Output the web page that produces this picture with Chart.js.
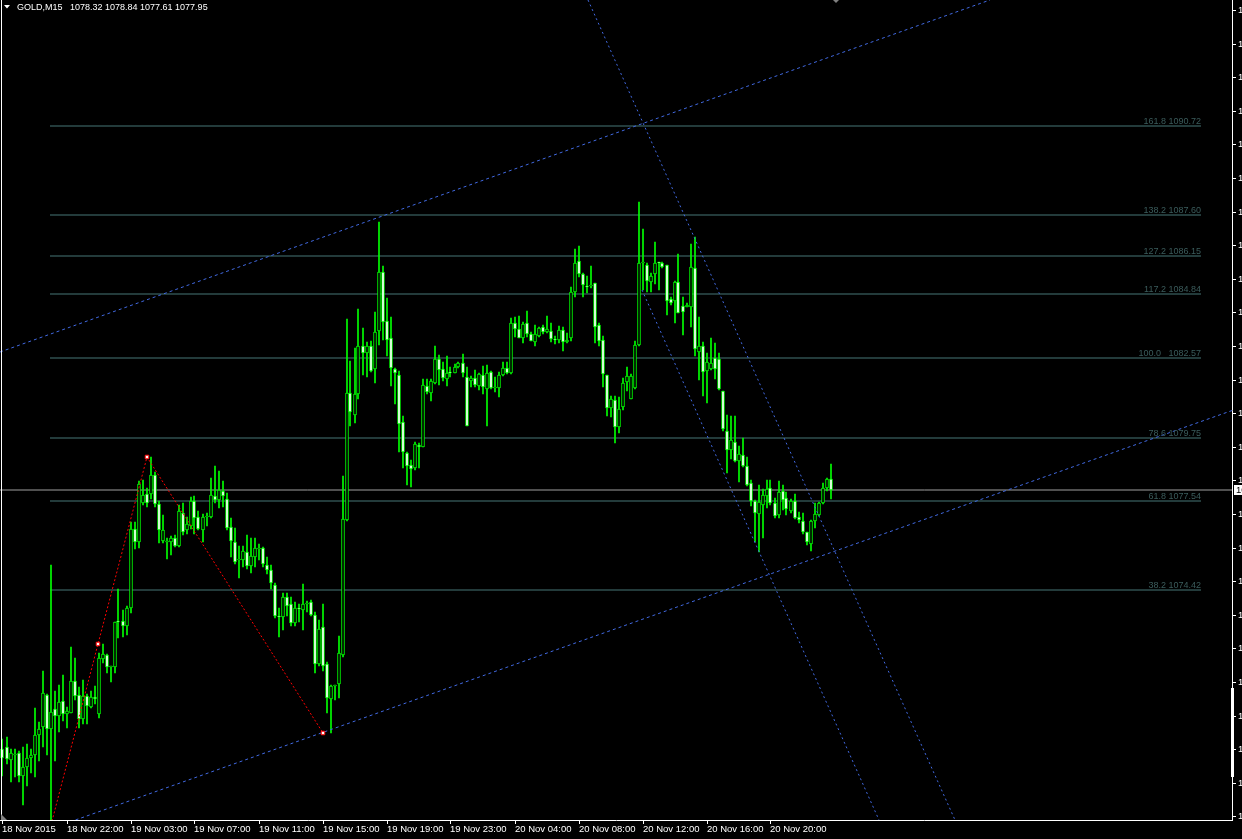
<!DOCTYPE html>
<html>
<head>
<meta charset="utf-8">
<script src="https://cdn.jsdelivr.net/npm/chart.js@4.4.0/dist/chart.umd.min.js"></script>
<style>
  html, body { margin: 0; padding: 0; background: #000; overflow: hidden; }
  canvas { display: block; }
</style>
</head>
<body>
<canvas id="chart" width="1242" height="839"></canvas>
<script>
// MT4-style GOLD M15 candles with fibo levels, channel lines and a zigzag

const FONT = "'Liberation Sans', Arial, sans-serif";

const symbol = 'GOLD,M15';
const lastBar = ['1078.32', '1078.84', '1077.61', '1077.95'];
const bid = 1077.95;

// one x tick every 16 bars (4 hours)
const xTickLabels = ['18 Nov 2015', '18 Nov 22:00', '19 Nov 03:00', '19 Nov 07:00', '19 Nov 11:00',
  '19 Nov 15:00', '19 Nov 19:00', '19 Nov 23:00', '20 Nov 04:00', '20 Nov 08:00',
  '20 Nov 12:00', '20 Nov 16:00', '20 Nov 20:00'];
const yTickValues = [1094.80, 1093.62, 1092.44, 1091.26, 1090.08, 1088.90, 1087.72, 1086.54,
  1085.36, 1084.18, 1083.00, 1081.82, 1080.64, 1079.46, 1078.28, 1077.10, 1075.92, 1074.74,
  1073.56, 1072.38, 1071.20, 1070.02, 1068.84, 1067.66, 1066.48];

const opens = [
  1068.86, 1068.90, 1068.45, 1068.65, 1068.71, 1067.90, 1068.20, 1068.51, 1068.65, 1069.32,
  1069.60, 1070.74, 1069.53, 1070.24, 1070.01, 1070.52, 1070.06, 1070.12, 1071.23, 1070.74,
  1069.91, 1070.70, 1070.33, 1070.67, 1070.06, 1072.01, 1072.13, 1071.73, 1071.71, 1073.31,
  1073.33, 1073.18, 1073.80, 1076.58, 1076.13, 1077.50, 1077.81, 1077.81, 1078.45, 1077.44,
  1076.16, 1076.13, 1076.13, 1076.27, 1075.99, 1077.13, 1076.52, 1076.68, 1077.54, 1077.00,
  1076.54, 1077.00, 1077.00, 1077.72, 1077.58, 1077.91, 1077.64, 1076.63, 1076.10, 1075.48,
  1075.49, 1075.76, 1075.26, 1075.59, 1075.87, 1075.90, 1075.31, 1075.12, 1074.60, 1073.50,
  1073.47, 1074.19, 1073.92, 1073.26, 1073.78, 1073.71, 1073.95, 1073.99, 1073.54, 1071.84,
  1073.14, 1071.83, 1070.60, 1071.05, 1071.12, 1072.14, 1076.90, 1081.34, 1080.59, 1081.30,
  1083.00, 1082.76, 1083.00, 1082.19, 1083.51, 1085.60, 1083.87, 1083.28, 1082.19, 1081.98,
  1080.34, 1079.25, 1078.81, 1078.70, 1079.52, 1079.46, 1081.61, 1081.36, 1081.69, 1082.53,
  1082.18, 1081.83, 1082.06, 1082.06, 1082.27, 1082.39, 1081.90, 1081.78, 1081.86, 1081.59,
  1081.98, 1081.48, 1082.10, 1081.51, 1081.51, 1081.98, 1082.21, 1082.06, 1083.82, 1083.58,
  1083.27, 1083.79, 1083.41, 1083.15, 1083.36, 1083.68, 1083.50, 1083.54, 1083.23, 1083.21,
  1083.56, 1083.15, 1083.27, 1084.88, 1085.98, 1085.52, 1085.11, 1085.10, 1085.20, 1083.72,
  1083.21, 1081.97, 1080.83, 1081.10, 1080.17, 1080.84, 1081.72, 1081.14, 1081.51, 1083.03,
  1085.90, 1085.84, 1085.26, 1085.53, 1085.94, 1085.93, 1085.84, 1084.64, 1084.59, 1085.23,
  1084.40, 1084.36, 1084.36, 1085.75, 1082.80, 1083.00, 1082.12, 1082.18, 1082.56, 1082.53,
  1081.42, 1080.01, 1079.33, 1079.61, 1078.97, 1079.17, 1078.78, 1078.20, 1077.57, 1077.10,
  1077.41, 1077.73, 1078.00, 1077.47, 1077.06, 1077.91, 1077.65, 1077.22, 1077.57, 1076.98,
  1076.86, 1076.45, 1076.04, 1076.86, 1077.06, 1077.47, 1078.00, 1078.32];
const highs = [
  1069.19, 1069.26, 1068.86, 1068.86, 1068.77, 1068.90, 1069.02, 1068.83, 1070.27, 1069.78,
  1071.58, 1070.76, 1075.30, 1070.88, 1071.09, 1071.44, 1070.33, 1072.41, 1072.04, 1071.02,
  1071.26, 1070.76, 1070.88, 1071.05, 1072.20, 1072.53, 1072.17, 1071.76, 1073.29, 1074.46,
  1073.72, 1073.86, 1076.82, 1076.82, 1078.24, 1078.29, 1078.02, 1079.11, 1078.56, 1077.54,
  1077.06, 1076.24, 1076.31, 1076.35, 1077.40, 1077.47, 1077.00, 1077.68, 1077.72, 1077.20,
  1077.09, 1077.13, 1078.36, 1078.77, 1078.60, 1078.26, 1077.85, 1076.95, 1076.61, 1075.97,
  1075.97, 1076.35, 1076.27, 1076.24, 1076.04, 1075.94, 1075.59, 1075.31, 1074.67, 1073.78,
  1074.33, 1074.33, 1074.17, 1073.99, 1073.92, 1074.63, 1074.03, 1074.06, 1073.65, 1073.37,
  1073.92, 1071.90, 1071.08, 1071.08, 1072.83, 1078.43, 1083.96, 1082.46, 1082.94, 1084.30,
  1083.62, 1083.14, 1083.18, 1084.19, 1087.35, 1085.81, 1084.67, 1084.00, 1082.23, 1082.12,
  1080.55, 1079.28, 1078.98, 1079.63, 1079.59, 1081.83, 1081.83, 1081.83, 1083.00, 1082.68,
  1082.45, 1082.65, 1082.27, 1082.37, 1082.45, 1082.72, 1082.25, 1081.95, 1082.16, 1082.06,
  1082.31, 1082.33, 1082.12, 1081.92, 1082.07, 1082.45, 1082.45, 1083.97, 1084.03, 1084.06,
  1083.85, 1084.23, 1083.50, 1083.74, 1083.68, 1083.74, 1084.05, 1083.79, 1083.36, 1083.70,
  1083.65, 1083.44, 1085.06, 1086.39, 1086.51, 1085.57, 1085.46, 1085.81, 1085.20, 1083.79,
  1083.36, 1081.97, 1081.24, 1081.24, 1081.22, 1081.86, 1082.25, 1082.00, 1083.19, 1088.06,
  1087.10, 1085.93, 1085.55, 1086.64, 1085.96, 1085.96, 1085.84, 1084.71, 1085.29, 1086.23,
  1084.71, 1084.50, 1086.58, 1086.84, 1084.03, 1083.15, 1082.76, 1083.29, 1083.09, 1082.74,
  1081.42, 1080.58, 1080.55, 1080.54, 1079.49, 1079.75, 1079.11, 1078.29, 1077.59, 1078.12,
  1077.96, 1078.29, 1078.29, 1077.65, 1078.26, 1078.12, 1077.88, 1077.61, 1077.80, 1077.15,
  1077.12, 1076.48, 1076.89, 1077.47, 1077.53, 1078.20, 1078.35, 1078.84];
const lows = [
  1067.89, 1068.31, 1067.69, 1067.87, 1067.69, 1066.87, 1067.54, 1068.01, 1067.87, 1068.43,
  1068.92, 1068.63, 1066.19, 1068.43, 1069.45, 1069.82, 1069.59, 1070.12, 1070.56, 1069.57,
  1069.73, 1069.73, 1070.29, 1070.41, 1069.92, 1071.85, 1071.52, 1071.21, 1071.50, 1072.73,
  1072.76, 1072.85, 1073.62, 1075.86, 1075.90, 1077.40, 1077.34, 1077.61, 1077.34, 1076.08,
  1076.08, 1075.53, 1075.67, 1075.93, 1075.94, 1076.35, 1076.41, 1076.58, 1076.38, 1076.52,
  1076.13, 1076.68, 1076.95, 1077.47, 1077.31, 1077.34, 1076.54, 1075.59, 1075.35, 1074.85,
  1075.22, 1075.18, 1075.01, 1075.22, 1075.49, 1075.22, 1074.98, 1074.47, 1073.44, 1072.76,
  1073.03, 1073.51, 1073.17, 1073.17, 1073.31, 1073.03, 1073.65, 1073.51, 1071.53, 1071.76,
  1071.60, 1070.12, 1069.41, 1070.57, 1070.64, 1072.07, 1076.86, 1080.18, 1080.31, 1081.13,
  1081.98, 1081.91, 1082.09, 1081.71, 1083.04, 1083.21, 1082.66, 1081.60, 1080.96, 1079.28,
  1078.70, 1078.13, 1078.04, 1078.63, 1078.70, 1079.44, 1081.31, 1081.08, 1081.66, 1081.63,
  1081.78, 1081.61, 1081.90, 1082.04, 1082.21, 1081.90, 1080.20, 1081.55, 1081.55, 1081.45,
  1081.31, 1080.20, 1081.49, 1081.37, 1081.22, 1081.96, 1082.00, 1082.00, 1083.33, 1083.27,
  1083.09, 1083.33, 1083.19, 1083.01, 1083.33, 1083.42, 1083.44, 1083.15, 1083.07, 1083.09,
  1082.83, 1083.09, 1083.19, 1084.73, 1085.41, 1084.71, 1084.85, 1085.02, 1083.12, 1083.01,
  1081.57, 1080.55, 1080.49, 1079.58, 1079.95, 1080.75, 1081.43, 1081.13, 1081.49, 1082.99,
  1084.97, 1084.91, 1084.91, 1085.18, 1084.97, 1085.73, 1084.09, 1084.44, 1083.79, 1084.15,
  1083.37, 1084.36, 1083.68, 1082.65, 1081.80, 1081.24, 1081.01, 1082.16, 1081.83, 1081.45,
  1080.03, 1078.53, 1079.02, 1078.94, 1078.23, 1078.76, 1078.09, 1077.38, 1076.13, 1075.77,
  1076.24, 1077.30, 1077.41, 1076.95, 1076.95, 1077.24, 1077.06, 1077.12, 1076.91, 1076.79,
  1076.39, 1076.01, 1075.81, 1076.59, 1077.03, 1077.45, 1077.92, 1077.61];
const closes = [
  1068.51, 1068.48, 1068.72, 1068.66, 1067.90, 1068.20, 1068.51, 1068.65, 1069.32, 1069.53,
  1070.80, 1069.53, 1070.15, 1070.01, 1070.48, 1070.08, 1070.18, 1071.23, 1070.71, 1069.88,
  1070.70, 1070.36, 1070.68, 1070.60, 1072.03, 1072.17, 1071.71, 1071.76, 1073.29, 1073.29,
  1073.18, 1073.78, 1076.58, 1076.13, 1078.16, 1077.77, 1077.50, 1078.45, 1077.44, 1076.52,
  1076.54, 1076.15, 1076.27, 1075.97, 1077.20, 1076.45, 1076.75, 1077.54, 1076.95, 1076.58,
  1077.00, 1077.02, 1077.77, 1077.58, 1077.95, 1077.72, 1076.61, 1076.15, 1075.42, 1075.49,
  1075.80, 1075.28, 1075.63, 1075.90, 1075.90, 1075.35, 1075.12, 1074.67, 1073.51, 1073.47,
  1074.19, 1073.88, 1073.26, 1073.78, 1073.76, 1073.95, 1073.96, 1073.54, 1071.83, 1073.06,
  1071.76, 1070.64, 1071.05, 1071.05, 1072.21, 1076.93, 1081.34, 1080.68, 1081.30, 1083.00,
  1082.76, 1083.00, 1082.12, 1083.49, 1085.60, 1083.83, 1083.21, 1082.23, 1082.05, 1080.27,
  1079.28, 1078.77, 1078.67, 1079.55, 1079.44, 1081.63, 1081.39, 1081.77, 1082.53, 1082.16,
  1081.86, 1082.06, 1082.05, 1082.27, 1082.39, 1082.06, 1080.20, 1081.86, 1081.63, 1082.02,
  1081.55, 1082.06, 1081.51, 1081.52, 1081.98, 1082.21, 1082.04, 1083.82, 1083.58, 1083.27,
  1083.77, 1083.42, 1083.19, 1083.41, 1083.62, 1083.50, 1083.58, 1083.23, 1083.22, 1083.56,
  1083.13, 1083.21, 1084.88, 1085.90, 1085.52, 1085.14, 1085.06, 1085.11, 1083.65, 1083.19,
  1082.00, 1080.83, 1081.13, 1080.14, 1080.77, 1081.69, 1081.95, 1081.96, 1083.03, 1085.90,
  1085.96, 1085.29, 1085.46, 1085.93, 1085.90, 1085.76, 1084.59, 1084.52, 1085.23, 1084.15,
  1084.20, 1084.44, 1085.76, 1082.88, 1083.00, 1082.10, 1082.45, 1082.39, 1082.18, 1081.50,
  1080.07, 1079.35, 1079.70, 1078.97, 1079.20, 1078.78, 1078.12, 1077.57, 1077.12, 1077.51,
  1077.76, 1077.98, 1077.47, 1077.03, 1077.88, 1077.59, 1077.26, 1077.57, 1076.95, 1076.89,
  1076.48, 1076.13, 1076.85, 1077.10, 1077.47, 1078.02, 1078.31, 1077.95];

// Fibonacci expansion levels
const fibLabels = ['161.8 1090.72', '138.2 1087.60', '127.2 1086.15', '117.2 1084.84',
  '100.0   1082.57', '78.6 1079.75', '61.8 1077.54', '38.2 1074.42'];
const fibPrices = [1090.72, 1087.60, 1086.15, 1084.84, 1082.57, 1079.75, 1077.54, 1074.42];
const fibSpan = [11.9, 299.6];   // bar index where the levels start / end

// drawn objects: [bar index, price]
const zigzag = [[12, 1066.19], [23.95, 1072.52], [36.05, 1079.09], [80.05, 1069.41]];
const channelUpper = [[-0.7, 1082.79], [246.9, 1095.15]];
const channelLower = [[0, 1065.43], [309.9, 1080.84]];
const slopeA = [[146.3, 1095.15], [238.1, 1066.35]];
const slopeB = [[159.9, 1084.97], [219.1, 1066.35]];

const LIME = '#00ff00';
const FIB = '#2f4f4f';
const BLUE = '#4169e1';

const pts = (arr) => arr.map(([x, y]) => ({ x, y }));
const dotted = (arr, color, dash, order) => ({
  type: 'line', data: pts(arr), borderColor: color, borderWidth: 1, borderDash: dash,
  pointRadius: 0, pointHoverRadius: 0, fill: false, order,
});

const datasets = [];
fibPrices.forEach((p) => {
  datasets.push({
    type: 'line', data: pts([[fibSpan[0], p], [fibSpan[1], p]]),
    borderColor: FIB, borderWidth: 1.4, pointRadius: 0, pointHoverRadius: 0, order: 6,
  });
});
datasets.push({
  type: 'line', data: pts([[-1, bid], [310, bid]]),
  borderColor: '#a0a0a0', borderWidth: 1, pointRadius: 0, pointHoverRadius: 0, order: 5,
});
datasets.push({
  type: 'bar', grouped: false, barThickness: 1, order: 4,
  data: opens.map((o, i) => ({ x: i, y: [lows[i], highs[i]] })),
  backgroundColor: LIME, borderWidth: 0,
});
datasets.push({
  type: 'bar', grouped: false, barThickness: 3, order: 3, minBarLength: 1,
  data: opens.map((o, i) => ({ x: i, y: [o, closes[i]] })),
  backgroundColor: opens.map((o, i) => (closes[i] < o ? '#ffffff' : '#000000')),
  borderColor: LIME, borderWidth: 1, borderSkipped: false,
});
datasets.push(dotted(channelUpper, BLUE, [3, 3], 1));
datasets.push(dotted(channelLower, BLUE, [3, 3], 1));
datasets.push(dotted(slopeA, BLUE, [2, 3], 1));
datasets.push(dotted(slopeB, BLUE, [2, 3], 1));
datasets.push(dotted(zigzag, '#ff0000', [2, 2], 1));
datasets.push({
  type: 'line', showLine: false, data: pts(zigzag.slice(1)), order: 0,
  pointStyle: 'rect', pointRadius: 2.5, pointHoverRadius: 2.5, pointBackgroundColor: '#ffffff',
  pointBorderColor: '#ff0000', pointBorderWidth: 1,
});

const decor = {
  id: 'decor',
  beforeDraw(chart) {
    const { ctx, width, height } = chart;
    ctx.save();
    ctx.fillStyle = '#000';
    ctx.fillRect(0, 0, width, height);
    ctx.restore();
  },
  afterDatasetsDraw(chart) {
    const { ctx, scales: { x, y } } = chart;
    ctx.save();
    ctx.font = `9px ${FONT}`;
    ctx.fillStyle = '#3b5c5c';
    ctx.textAlign = 'right';
    ctx.textBaseline = 'alphabetic';
    const right = x.getPixelForValue(fibSpan[1]);
    fibPrices.forEach((p, k) => {
      ctx.fillText(fibLabels[k], right, y.getPixelForValue(p) - 2);
    });
    ctx.restore();
  },
  afterDraw(chart) {
    const { ctx, chartArea, scales: { y } } = chart;
    ctx.save();
    // left border
    ctx.fillStyle = '#ffffff';
    ctx.fillRect(1, 0, 1, chartArea.bottom);
    // scale-bar marker on the price axis
    ctx.fillRect(chartArea.right - 1, 688, 3, 89);
    // bid price box
    const by = y.getPixelForValue(bid);
    ctx.fillRect(chartArea.right + 2, by - 5, 12, 10);
    ctx.fillStyle = '#000';
    ctx.font = `9.5px ${FONT}`;
    ctx.textAlign = 'left';
    ctx.textBaseline = 'middle';
    ctx.fillText(bid.toFixed(2), chartArea.right + 4, by);
    // shift markers
    ctx.fillStyle = '#808080';
    ctx.beginPath();
    ctx.moveTo(1, chartArea.bottom - 6); ctx.lineTo(1, chartArea.bottom); ctx.lineTo(7, chartArea.bottom);
    ctx.closePath(); ctx.fill();
    ctx.beginPath();
    ctx.moveTo(833, 0); ctx.lineTo(839, 0); ctx.lineTo(836, 3);
    ctx.closePath(); ctx.fill();
    // title
    ctx.fillStyle = '#ffffff';
    ctx.beginPath();
    ctx.moveTo(4, 5); ctx.lineTo(10, 5); ctx.lineTo(7, 8.5);
    ctx.closePath(); ctx.fill();
    ctx.font = `9px ${FONT}`;
    ctx.textBaseline = 'alphabetic';
    ctx.fillText(symbol, 17, 10);
    ctx.fillText(lastBar.join(' '), 70, 10);
    ctx.restore();
  },
};

new Chart(document.getElementById('chart'), {
  type: 'bar',
  data: { datasets },
  options: {
    responsive: false,
    animation: false,
    devicePixelRatio: 1,
    layout: { padding: 0, autoPadding: false },
    plugins: { legend: { display: false }, tooltip: { enabled: false } },
    scales: {
      x: {
        type: 'linear',
        position: 'bottom',
        min: -0.625,
        max: 307.375,
        offset: false,
        alignToPixels: true,
        grid: { offset: false, drawOnChartArea: false, drawTicks: true, tickLength: 4, color: '#ffffff' },
        border: { display: true, color: '#ffffff', width: 1 },
        ticks: {
          color: '#ffffff', font: { family: FONT, size: 9.5 }, align: 'start',
          autoSkip: false, maxRotation: 0, padding: 0,
          callback: (v, i) => xTickLabels[i],
        },
        afterBuildTicks: (s) => { s.ticks = xTickLabels.map((_, k) => ({ value: k * 16 })); },
        afterFit: (s) => { s.height = 19; s.paddingLeft = 0; s.paddingRight = 0; },
      },
      y: {
        type: 'linear',
        position: 'right',
        min: 1066.35,
        max: 1095.15,
        alignToPixels: true,
        grid: { drawOnChartArea: false, drawTicks: true, tickLength: 4, color: '#ffffff' },
        border: { display: true, color: '#ffffff', width: 1 },
        ticks: {
          color: '#ffffff', font: { family: FONT, size: 9.5 }, padding: 2,
          callback: (v) => Number(v).toFixed(2),
        },
        afterBuildTicks: (s) => { s.ticks = yTickValues.map((v) => ({ value: v })); },
        afterFit: (s) => { s.width = 10; s.paddingTop = 0; s.paddingBottom = 0; },
      },
    },
  },
  plugins: [decor],
});
</script>
</body>
</html>
